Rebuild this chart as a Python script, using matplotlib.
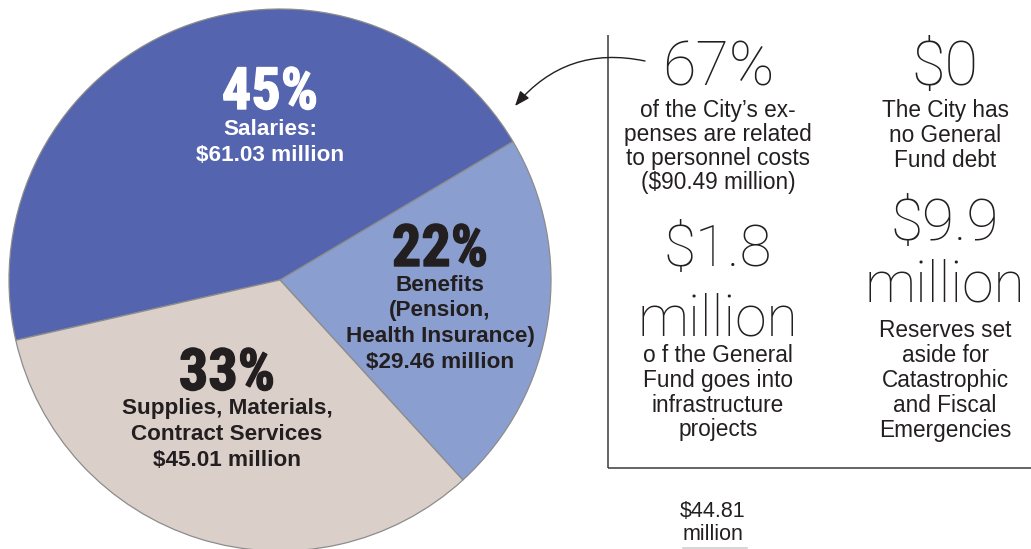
import matplotlib
matplotlib.use("Agg")
import matplotlib.pyplot as plt
import matplotlib.patheffects as pe

# ---------------- data ----------------
categories = ["Salaries", "Benefits", "Supplies, Materials, Contract Services"]
values = [61.03, 29.46, 45.01]  # $ millions
percent_labels = ["45%", "22%", "33%"]
label_lines = [
    ["Salaries:", "$61.03 million"],
    ["Benefits", "(Pension,", "Health Insurance)", "$29.46 million"],
    ["Supplies, Materials,", "Contract Services", "$45.01 million"],
]
slice_colors = ["#5464AE", "#8A9ECF", "#DBCFCA"]
label_colors = ["white", "#231F20", "#231F20"]

stat_big = [["67%"], ["$0"], ["$1.8", "million"], ["$9.9", "million"]]
stat_text = [
    ["of the City\u2019s ex-", "penses are related", "to personnel costs", "($90.49 million)"],
    ["The City has", "no General", "Fund debt"],
    ["o f the General", "Fund goes into", "infrastructure", "projects"],
    ["Reserves set", "aside for", "Catastrophic", "and Fiscal", "Emergencies"],
]
footer_lines = ["$44.81", "million"]

# ---------------- figure ----------------
W, H = 1031, 549
fig = plt.figure(figsize=(W / 100, H / 100), dpi=100)
ax = fig.add_axes([0, 0, 1, 1])

ax.pie(values, colors=slice_colors, startangle=192.85, counterclock=False,
       center=(280, H - 280), radius=271,
       wedgeprops=dict(edgecolor="#8C8C8C", linewidth=0.9))
ax.set_aspect("auto")
ax.set_xlim(0, W)
ax.set_ylim(0, H)
ax.axis("off")

DARK = "#231F20"


def put(x, y_px, s, **kw):
    kw.setdefault("ha", "center")
    kw.setdefault("va", "baseline")
    return ax.text(x, H - y_px, s, **kw)


# pie labels
pct_pos = [(270, 109), (440, 266), (227, 390)]
line_base = [[135, 161], [291, 316, 342, 368], [414, 440, 466]]
for i in range(3):
    x, yb = pct_pos[i]
    put(x, yb, percent_labels[i], family="Roboto Condensed", weight="bold",
        fontsize=42, color=label_colors[i],
        path_effects=[pe.withStroke(linewidth=1.0, foreground=label_colors[i])])
    for s, yb2 in zip(label_lines[i], line_base[i]):
        put(x, yb2, s, family="Liberation Sans", weight="bold", fontsize=16.2,
            color=label_colors[i])

# right-hand panel frame
ax.plot([607.5, 607.5], [H - 35, H - 468], color="#3A3A3A", lw=1.1, solid_capstyle="butt")
ax.plot([607.5, W], [H - 468, H - 468], color="#3A3A3A", lw=1.1, solid_capstyle="butt")

# curved arrow
ax.annotate("", xy=(515, H - 106), xytext=(645, H - 61),
            arrowprops=dict(arrowstyle="-|>,head_length=0.9,head_width=0.35",
                            connectionstyle="arc3,rad=0.3", color=DARK, lw=1.0,
                            shrinkA=0, shrinkB=0))

# big thin numbers
thin = dict(family="Roboto", weight=100, color=DARK)
big_pos = [
    [(718, 85, 44)],
    [(945, 85, 44)],
    [(718, 266, 42), (718, 336, 41)],
    [(945, 240, 42), (945, 301, 41)],
]
body_base = [
    (718, [117, 141, 165, 189]),
    (945, [117, 142, 167]),
    (718, [362, 387, 412, 436]),
    (945, [337, 362, 387, 412, 437]),
]
for k in range(4):
    for s, (x, yb, fs) in zip(stat_big[k], big_pos[k]):
        put(x, yb, s, fontsize=fs, **thin)
    x, bases = body_base[k]
    for s, yb in zip(stat_text[k], bases):
        put(x, yb, s, family="Liberation Sans", fontsize=16.3, color=DARK)

for s, yb in zip(footer_lines, [517, 540]):
    put(713, yb, s, family="Liberation Sans", fontsize=15.5, color=DARK)
ax.plot([683, 747], [H - 548, H - 548], color="#D0D0D0", lw=1.2)

fig.savefig("out.png", dpi=100)
